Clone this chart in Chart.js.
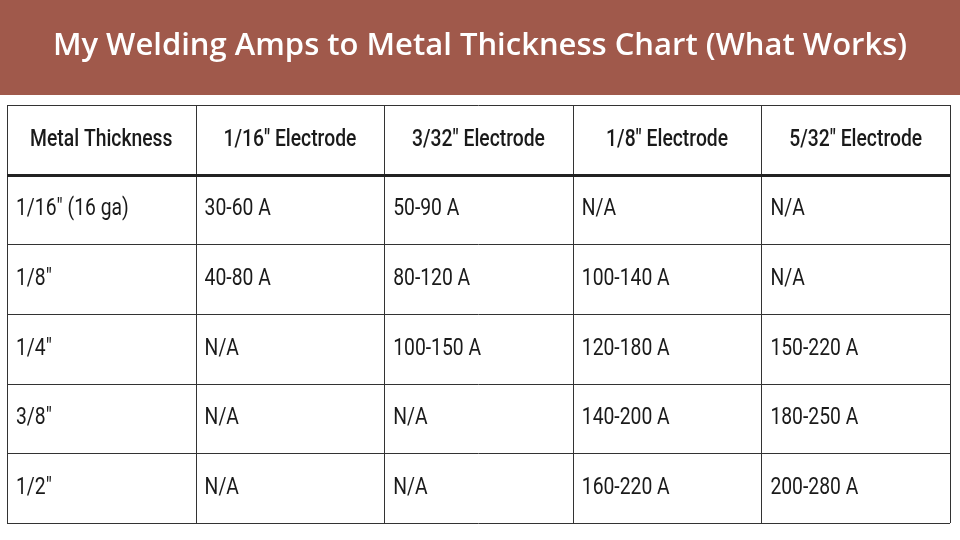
<!DOCTYPE html>
<html>
<head>
<meta charset="utf-8">
<script src="https://cdn.jsdelivr.net/npm/chart.js@4"></script>
<style>
html, body { margin: 0; padding: 0; background: #ffffff; }
#wrap { width: 960px; height: 540px; }
</style>
</head>
<body>
<div id="wrap"><canvas id="table_chart" width="960" height="540"></canvas></div>
<script>
const title_text = 'My Welding Amps to Metal Thickness Chart (What Works)'
const column_headers = ['Metal Thickness', '1/16" Electrode', '3/32" Electrode', '1/8" Electrode', '5/32" Electrode']
const metal_thickness = ['1/16" (16 ga)', '1/8"', '1/4"', '3/8"', '1/2"']
const electrode_1_16 = ['30-60 A', '40-80 A', 'N/A', 'N/A', 'N/A']
const electrode_3_32 = ['50-90 A', '80-120 A', '100-150 A', 'N/A', 'N/A']
const electrode_1_8 = ['N/A', '100-140 A', '120-180 A', '140-200 A', '160-220 A']
const electrode_5_32 = ['N/A', 'N/A', '150-220 A', '180-250 A', '200-280 A']

const columns = [metal_thickness, electrode_1_16, electrode_3_32, electrode_1_8, electrode_5_32]

// one invisible point per cell, the plugin writes the text at its position
const cell_points = []
columns.forEach((col, c) => {
	cell_points.push({ x: c, y: 0, text: column_headers[c] })
	col.forEach((v, r) => cell_points.push({ x: c, y: r + 1, text: v }))
})

// draws text squeezed horizontally, the reference uses a narrow font
function narrowText(ctx, text, x, y, squeeze) {
	ctx.save()
	ctx.translate(x, y)
	ctx.scale(squeeze, 1)
	ctx.fillText(text, 0, 0)
	ctx.restore()
}

const table_plugin = {
	id: 'table_plugin',
	beforeDraw(chart) {
		const ctx = chart.ctx
		ctx.save()
		ctx.fillStyle = '#ffffff'
		ctx.fillRect(0, 0, chart.width, chart.height)
		ctx.fillStyle = '#a0594b'
		ctx.fillRect(0, 0, chart.width, 95)
		ctx.fillStyle = '#ffffff'
		ctx.font = '600 31px "Open Sans", sans-serif'
		ctx.textAlign = 'center'
		ctx.textBaseline = 'middle'
		ctx.fillText(title_text, chart.width / 2, 46, 896)
		ctx.restore()
	},
	afterDatasetsDraw(chart) {
		const ctx = chart.ctx
		const xs = chart.scales.x
		const ys = chart.scales.y
		ctx.save()
		ctx.strokeStyle = '#333333'
		ctx.lineWidth = 1
		for (let c = 0; c <= columns.length; c++) {
			const px = Math.round(xs.getPixelForValue(c - 0.5)) + 0.5
			ctx.beginPath()
			ctx.moveTo(px, ys.getPixelForValue(-0.5))
			ctx.lineTo(px, ys.getPixelForValue(metal_thickness.length + 0.5))
			ctx.stroke()
		}
		for (let r = 0; r <= metal_thickness.length + 1; r++) {
			const py = Math.round(ys.getPixelForValue(r - 0.5)) + 0.5
			ctx.lineWidth = r === 1 ? 3 : 1
			ctx.strokeStyle = r === 1 ? '#222222' : '#333333'
			ctx.beginPath()
			ctx.moveTo(xs.getPixelForValue(-0.5), py)
			ctx.lineTo(xs.getPixelForValue(columns.length - 0.5), py)
			ctx.stroke()
		}
		ctx.fillStyle = '#1a1a1a'
		ctx.textBaseline = 'middle'
		cell_points.forEach(p => {
			const cx = xs.getPixelForValue(p.x)
			const cy = ys.getPixelForValue(p.y)
			if (p.y === 0) {
				ctx.font = '500 23px Roboto, sans-serif'
				ctx.textAlign = 'center'
				narrowText(ctx, p.text, cx, cy, 0.84)
			} else {
				ctx.font = '23px Roboto, sans-serif'
				ctx.textAlign = 'left'
				narrowText(ctx, p.text, xs.getPixelForValue(p.x - 0.5) + 9, cy, 0.84)
			}
		})
		ctx.restore()
	},
}

// eslint-disable-next-line
const table_chart = new Chart(document.getElementById('table_chart'), {
	type: 'scatter',
	data: {
		datasets: [{ data: cell_points, pointRadius: 0 }],
	},
	options: {
		responsive: false,
		animation: false,
		layout: { padding: { left: 7, right: 10, top: 105, bottom: 17 } },
		plugins: { legend: { display: false }, tooltip: { enabled: false }, title: { display: false } },
		scales: {
			x: { type: 'linear', min: -0.5, max: columns.length - 0.5, display: false },
			y: { type: 'linear', min: -0.5, max: metal_thickness.length + 0.5, reverse: true, display: false },
		},
	},
	plugins: [table_plugin],
})
</script>
</body>
</html>
